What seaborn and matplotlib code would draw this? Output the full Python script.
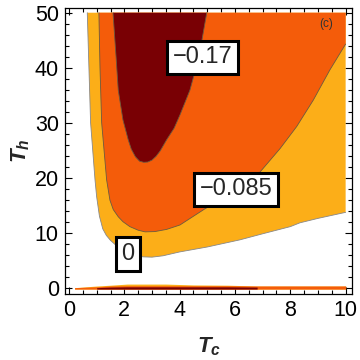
import numpy as np
import pandas as pd
import matplotlib
matplotlib.use("Agg")
import matplotlib.pyplot as plt
from matplotlib.ticker import MultipleLocator
import seaborn as sns

# ---- data (boundary curves of the contour levels) ----
levels = ["0", "\u22120.085", "\u22120.17"]

# level 0 boundary (white | light orange)
tc_0 = [0.66, 0.72, 0.78, 0.94, 1.00, 1.10, 1.22, 1.35, 1.50, 1.70, 1.95, 2.20, 2.45, 2.70,
        3.00, 3.40, 4.00, 5.00, 6.18, 7.00, 8.00, 8.35, 9.00, 10.0]
th_0 = [50.0, 40.0, 30.0, 19.6, 16.5, 13.0, 10.7, 9.5, 8.6, 7.7, 6.8, 6.15, 5.75, 5.6,
        5.55, 5.8, 6.5, 7.4, 8.7, 9.8, 11.1, 11.8, 12.6, 13.7]

# level -0.085 boundary (light orange | orange)
tc_1 = [1.08, 1.12, 1.18, 1.36, 1.48, 1.60, 1.78, 1.95, 2.20, 2.50, 2.75, 3.10, 3.53, 4.01,
        4.90, 6.03, 6.90, 7.63, 8.23, 8.83, 9.43, 10.0]
th_1 = [50.0, 40.0, 30.0, 19.6, 15.9, 14.2, 12.9, 12.0, 11.1, 10.45, 10.15, 10.2, 10.6, 11.4,
        14.3, 17.6, 21.0, 25.3, 29.3, 34.1, 39.6, 44.3]

# level -0.17 boundary (orange | dark red)
tc_2 = [1.59, 1.70, 1.78, 1.95, 2.14, 2.25, 2.40, 2.55, 2.70, 2.85, 3.00, 3.15, 3.30, 3.53,
        3.80, 4.01, 4.37, 4.70, 4.98]
th_2 = [50.0, 42.0, 35.9, 30.5, 26.9, 25.2, 23.8, 23.0, 22.8, 22.85, 23.2, 23.9, 24.9, 26.9,
        29.0, 31.4, 35.9, 42.0, 50.0]

# thin strip near Th = 0
strip_tc = [0.2, 1.0, 1.5, 2.1, 3.5, 4.5, 5.75, 6.8, 8.0, 10.0]
strip_light = [0.0, 0.3, 0.45, 0.65, 0.65, 0.5, 0.45, 0.3, 0.3, 0.3]
strip_orange = [0.0, 0.15, 0.3, 0.35, 0.35, 0.35, 0.35, 0.3, 0.3, 0.3]
strip_red = [-0.25, 0.0, 0.1, 0.15, 0.15, 0.15, 0.15, 0.1, -0.25, -0.25]
strip_base = -0.25

# label positions (Tc, Th)
label_tc = [2.13, 6.03, 4.84]
label_th = [6.1, 17.9, 41.9]

x_ticks = [0, 2, 4, 6, 8, 10]
y_ticks = [0, 10, 20, 30, 40, 50]

# ---- styling ----
sns.set_style("white")
plt.rcParams["font.family"] = ["Liberation Sans", "DejaVu Sans"]
plt.rcParams["mathtext.fontset"] = "custom"
plt.rcParams["mathtext.it"] = "Liberation Sans:bold:italic"
plt.rcParams["mathtext.rm"] = "Liberation Sans:bold"

c_light = "#FCAE18"
c_orange = "#F45C0A"
c_dark = "#790004"
c_line = "#6b5a40"

fig = plt.figure(figsize=(3.6, 3.6), dpi=100)
ax = fig.add_axes([65 / 360, 1 - 294 / 360, 287 / 360, 286.5 / 360])

# filled regions
ax.fill(tc_0 + [10.0], th_0 + [50.0], color=c_light, lw=0, zorder=1)
ax.fill(tc_1 + [10.0], th_1 + [50.0], color=c_orange, lw=0, zorder=2)
ax.fill(tc_2, th_2, color=c_dark, lw=0, zorder=3)

# strip near zero
ax.fill_between(strip_tc, strip_base, strip_light, color=c_light, lw=0, zorder=1)
ax.fill_between(strip_tc, strip_base, strip_orange, color=c_orange, lw=0, zorder=2)
ax.fill_between(strip_tc, strip_base, strip_red, where=[v > strip_base for v in strip_red],
                color=c_dark, lw=0, zorder=3)

# contour lines
for tcs, ths, col in [(tc_0, th_0, "#888888"), (tc_1, th_1, c_line), (tc_2, th_2, c_line)]:
    df = pd.DataFrame({"Tc": tcs, "Th": ths})
    sns.lineplot(data=df, x="Tc", y="Th", sort=False, estimator=None, color=col,
                 lw=0.6, ax=ax, zorder=4)

# contour labels
for lab, x, y in zip(levels, label_tc, label_th):
    ax.text(x, y, lab, fontsize=17, ha="center", va="center", zorder=6,
            bbox=dict(boxstyle="square,pad=0.24", fc="white", ec="black", lw=2.2))

ax.text(9.31, 47.9, "(c)", fontsize=8.5, color="#333333", ha="center", va="center", zorder=6)

ax.set_xlim(-0.145, 10.23)
ax.set_ylim(-1.15, 50.95)
ax.set_xticks(x_ticks)
ax.set_yticks(y_ticks)
ax.set_xticklabels([str(v) for v in x_ticks])
ax.set_yticklabels([str(v) for v in y_ticks])
ax.xaxis.set_minor_locator(MultipleLocator(0.5))
ax.yaxis.set_minor_locator(MultipleLocator(2))
ax.tick_params(which="both", direction="in", top=True, right=True, bottom=True, left=True,
               color="black", width=0.8)
ax.tick_params(which="major", length=5, labelsize=15.5, labelcolor="black")
ax.tick_params(axis="x", which="major", pad=4.5)
ax.tick_params(axis="y", which="major", pad=4.5)
ax.tick_params(which="minor", length=3)
for s in ax.spines.values():
    s.set_color("black")
    s.set_linewidth(0.9)

ax.set_xlabel("$T_c$", fontsize=16, labelpad=10)
ax.set_ylabel("$T_h$", fontsize=16, labelpad=2)

fig.savefig("out.png", dpi=100)
